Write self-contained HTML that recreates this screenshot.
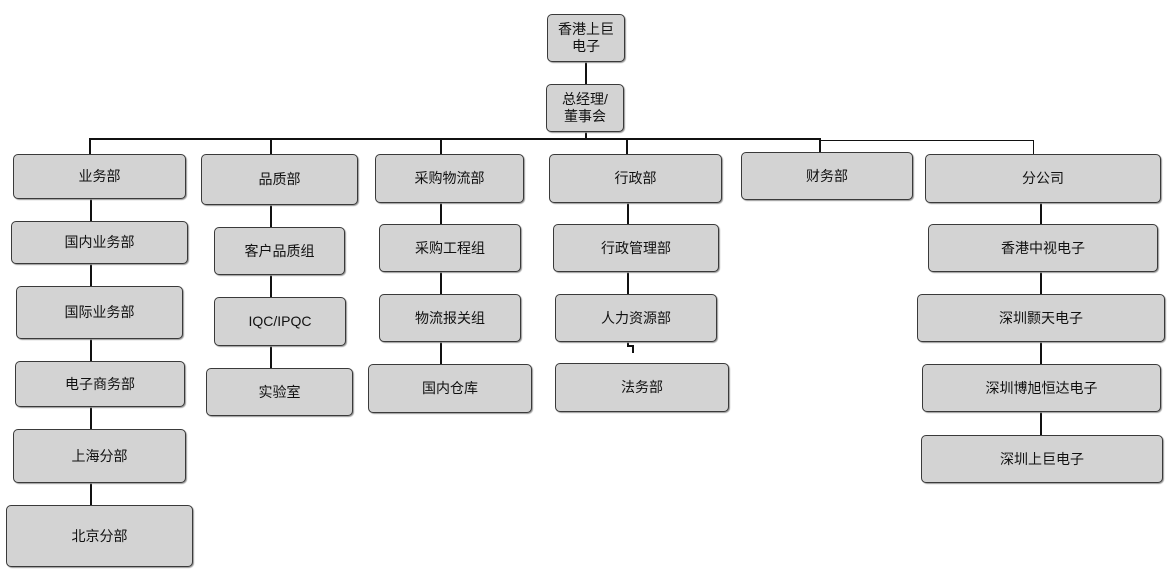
<!DOCTYPE html>
<html><head><meta charset="utf-8"><style>
body{margin:0;width:1174px;height:576px;background:#fff;position:relative;overflow:hidden;font-family:"Liberation Sans","Noto Sans CJK SC",sans-serif}
.b{position:absolute;box-sizing:border-box;background:#d3d3d3;border:1.5px solid #3a3a3a;border-radius:5px;display:flex;align-items:center;justify-content:center;text-align:center;font-size:14px;line-height:17px;color:#111;box-shadow:1px 1px 1px #999}
.l{position:absolute;background:#111}
</style></head><body>
<!-- connectors -->
<div class="l" style="left:585px;top:62px;width:2px;height:22px"></div>
<div class="l" style="left:585px;top:132px;width:2px;height:7px"></div>
<div class="l" style="left:89px;top:138px;width:732px;height:2px"></div>
<div class="l" style="left:820px;top:140px;width:214px;height:1px"></div>
<div class="l" style="left:89px;top:138px;width:2px;height:16px"></div>
<div class="l" style="left:270px;top:138px;width:2px;height:16px"></div>
<div class="l" style="left:440px;top:138px;width:2px;height:16px"></div>
<div class="l" style="left:626px;top:138px;width:2px;height:16px"></div>
<div class="l" style="left:819px;top:138px;width:2px;height:14px"></div>
<div class="l" style="left:1033px;top:140px;width:1px;height:14px"></div>
<div class="l" style="left:90px;top:190px;width:2px;height:320px"></div>
<div class="l" style="left:270px;top:195px;width:2px;height:180px"></div>
<div class="l" style="left:440px;top:195px;width:2px;height:175px"></div>
<div class="l" style="left:627px;top:195px;width:2px;height:150px"></div>
<div class="l" style="left:627px;top:345px;width:7px;height:2px"></div>
<div class="l" style="left:632px;top:345px;width:2px;height:8px"></div>
<div class="l" style="left:1040px;top:195px;width:2px;height:245px"></div>
<!-- boxes -->
<div class="b" style="left:547px;top:14px;width:78px;height:48px">香港上巨<br>电子</div>
<div class="b" style="left:546px;top:84px;width:78px;height:48px">总经理/<br>董事会</div>
<div class="b" style="left:13px;top:154px;width:173px;height:45px">业务部</div>
<div class="b" style="left:11px;top:221px;width:177px;height:43px">国内业务部</div>
<div class="b" style="left:16px;top:286px;width:167px;height:53px">国际业务部</div>
<div class="b" style="left:15px;top:361px;width:170px;height:46px">电子商务部</div>
<div class="b" style="left:13px;top:429px;width:173px;height:54px">上海分部</div>
<div class="b" style="left:6px;top:505px;width:187px;height:62px">北京分部</div>
<div class="b" style="left:201px;top:154px;width:157px;height:51px">品质部</div>
<div class="b" style="left:214px;top:227px;width:131px;height:48px">客户品质组</div>
<div class="b" style="left:214px;top:297px;width:132px;height:49px">IQC/IPQC</div>
<div class="b" style="left:206px;top:368px;width:147px;height:48px">实验室</div>
<div class="b" style="left:375px;top:154px;width:149px;height:49px">采购物流部</div>
<div class="b" style="left:379px;top:224px;width:142px;height:48px">采购工程组</div>
<div class="b" style="left:379px;top:294px;width:142px;height:48px">物流报关组</div>
<div class="b" style="left:368px;top:364px;width:164px;height:49px">国内仓库</div>
<div class="b" style="left:549px;top:154px;width:173px;height:49px">行政部</div>
<div class="b" style="left:553px;top:224px;width:166px;height:48px">行政管理部</div>
<div class="b" style="left:555px;top:294px;width:162px;height:48px">人力资源部</div>
<div class="b" style="left:555px;top:363px;width:174px;height:49px">法务部</div>
<div class="b" style="left:741px;top:152px;width:172px;height:48px">财务部</div>
<div class="b" style="left:925px;top:154px;width:236px;height:49px">分公司</div>
<div class="b" style="left:928px;top:224px;width:230px;height:48px">香港中视电子</div>
<div class="b" style="left:917px;top:294px;width:248px;height:48px">深圳颢天电子</div>
<div class="b" style="left:922px;top:364px;width:239px;height:48px">深圳博旭恒达电子</div>
<div class="b" style="left:921px;top:435px;width:242px;height:48px">深圳上巨电子</div>
</body></html>
